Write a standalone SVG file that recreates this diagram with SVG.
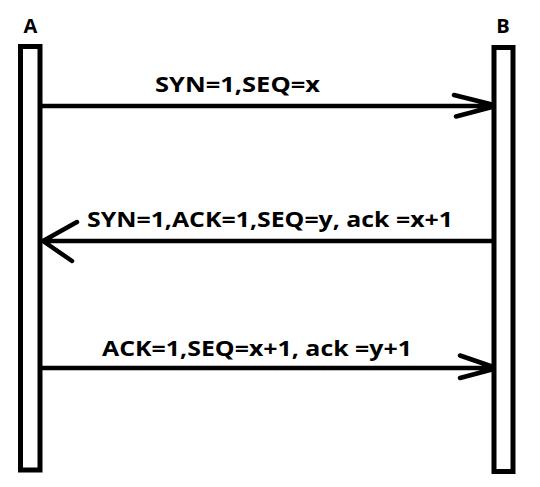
<svg xmlns="http://www.w3.org/2000/svg" width="540" height="487" viewBox="0 0 540 487">
<style>
.bar{fill:#fff;stroke:#000;stroke-width:5}
.ln{fill:none;stroke:#000;stroke-width:4.5;stroke-linecap:round;stroke-linejoin:round}
.lbl{font-family:"Open Sans","Noto Sans",sans-serif;font-weight:bold;font-size:22px;fill:#000}
.nm{font-family:"Open Sans","Noto Sans",sans-serif;font-weight:bold;font-size:20px;fill:#000;text-anchor:middle}
</style>
<rect width="540" height="487" fill="#fff"/>
<g id="nodeA">
<rect class="bar" x="20.5" y="46.5" width="19.5" height="423.5"/>
<text class="nm" x="30.5" y="33">A</text>
</g>
<g id="nodeB">
<rect class="bar" x="494" y="47.5" width="19" height="424"/>
<text class="nm" x="503" y="33">B</text>
</g>
<g id="connectors">
<path class="ln" d="M42 106 H492 M454 95 L492 104.5 M456 116.5 L492 107"/>
<text class="lbl" x="155" y="92" textLength="165" lengthAdjust="spacingAndGlyphs">SYN=1,SEQ=x</text>
<path class="ln" d="M492 241 H43 M77 222 L43 241 L72 261"/>
<text class="lbl" x="87" y="227" textLength="366" lengthAdjust="spacingAndGlyphs">SYN=1,ACK=1,SEQ=y, ack =x+1</text>
<path class="ln" d="M42 368 H492 M460 355.5 L492 366.5 M460 378 L492 369.5"/>
<text class="lbl" x="102" y="356" textLength="310" lengthAdjust="spacingAndGlyphs">ACK=1,SEQ=x+1, ack =y+1</text>
</g>
</svg>
